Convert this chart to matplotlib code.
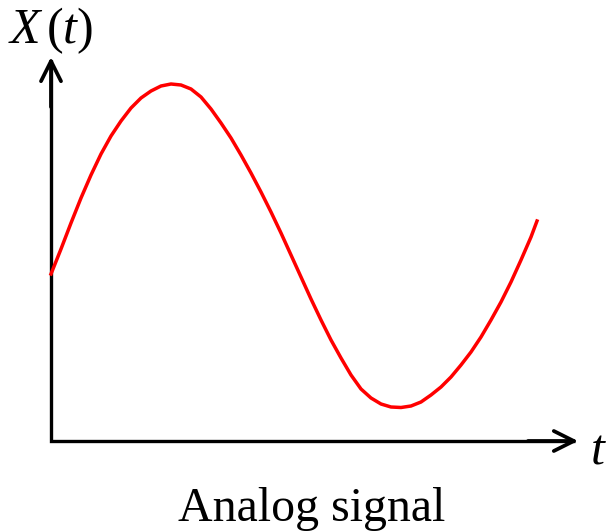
import matplotlib
matplotlib.use('Agg')
import matplotlib.pyplot as plt

# ---- data (t and X(t) in arbitrary units)
t_vals = [0.0, 0.1, 0.2, 0.3, 0.4, 0.5, 0.6, 0.7, 0.8, 0.9,
          1.0, 1.1, 1.2, 1.3, 1.4, 1.5, 1.6, 1.7, 1.8, 1.9,
          2.0, 2.1, 2.2, 2.3, 2.4, 2.5, 2.6, 2.7, 2.8, 2.9,
          3.0, 3.1, 3.2, 3.3, 3.4, 3.5, 3.6, 3.7, 3.8, 3.9,
          4.0, 4.1, 4.2, 4.3, 4.4, 4.5, 4.6, 4.7, 4.8, 4.86]
x_vals = [1.67, 1.92, 2.18, 2.43, 2.66, 2.87, 3.05, 3.20, 3.33, 3.43,
          3.50, 3.55, 3.57, 3.56, 3.52, 3.44, 3.32, 3.18, 3.03, 2.86,
          2.68, 2.49, 2.29, 2.08, 1.86, 1.64, 1.42, 1.21, 1.01, 0.83,
          0.66, 0.52, 0.43, 0.37, 0.34, 0.335, 0.35, 0.39, 0.46, 0.54,
          0.64, 0.76, 0.89, 1.04, 1.21, 1.39, 1.59, 1.81, 2.04, 2.20]

y_label = r'$X\,(t)$'
x_label = r'$t$'
caption = 'Analog signal'

plt.rcParams['mathtext.fontset'] = 'custom'
plt.rcParams['mathtext.rm'] = 'Liberation Serif'
plt.rcParams['mathtext.it'] = 'Liberation Serif:italic'

fig = plt.figure(figsize=(6.06, 5.32), dpi=100)
ax = fig.add_axes([0, 0, 1, 1])
ax.set_xlim(-0.51, 5.55)
ax.set_ylim(-0.91, 4.41)
ax.axis('off')

# axes drawn as an L with open arrow heads
x_tip, y_tip = 5.27, 3.84
ax.plot([0, 0, x_tip - 0.03], [y_tip - 0.03, 0, 0], color='black', lw=2.4,
        solid_joinstyle='miter', solid_capstyle='butt')
head = dict(arrowstyle='->,head_length=0.72,head_width=0.36', lw=2.7,
            color='black', mutation_scale=20, shrinkA=0, shrinkB=0)
ax.annotate('', xy=(x_tip, 0), xytext=(x_tip - 0.5, 0), arrowprops=head)
ax.annotate('', xy=(0, y_tip), xytext=(0, y_tip - 0.5), arrowprops=head)

# signal
ax.plot(t_vals, x_vals, color='red', lw=2.5, solid_joinstyle='round')

# labels
ax.text(0.0, 3.98, y_label, fontsize=36, ha='center', va='baseline')
ax.text(5.47, -0.22, x_label, fontsize=36, ha='center', va='baseline')
ax.text(2.605, -0.80, caption, fontsize=34.5, ha='center', va='baseline',
        family='Liberation Serif')

fig.savefig('out.png', dpi=100)
